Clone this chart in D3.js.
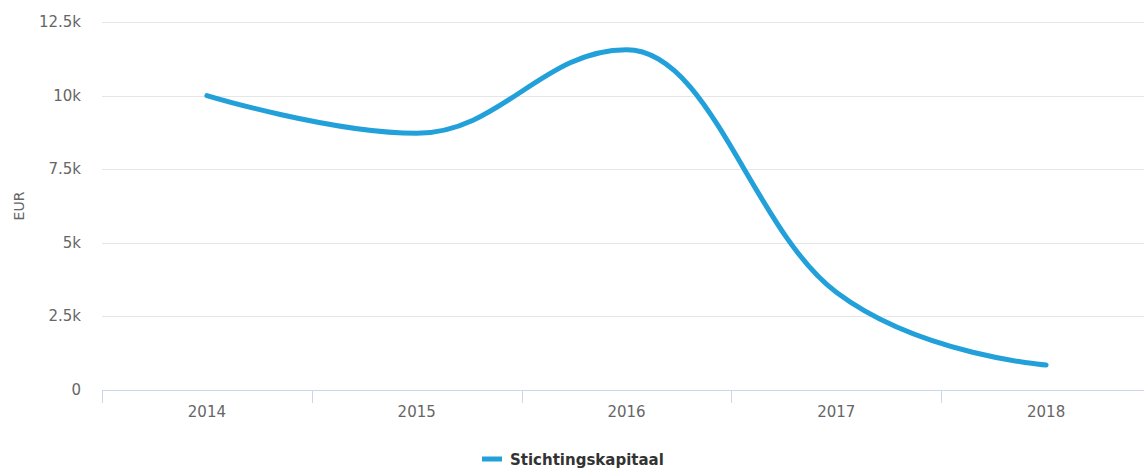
<!DOCTYPE html>
<html>
<head>
<meta charset="utf-8">
<script src="https://cdn.jsdelivr.net/npm/d3@7"></script>
<style>
  html, body { margin: 0; padding: 0; background: #fff; }
  svg { display: block; font-family: "DejaVu Sans", sans-serif; }
</style>
</head>
<body>
<svg id="chart" width="1144" height="470"></svg>
<script>
const categories = ["2014", "2015", "2016", "2017", "2018"];
const seriesName = "Stichtingskapitaal";
const values = [10000, 8720, 11560, 3320, 850];
const yTicks = [0, 2500, 5000, 7500, 10000, 12500];
const yTickLabels = ["0", "2.5k", "5k", "7.5k", "10k", "12.5k"];
const yTitle = "EUR";

(function () {
const svg = d3.select("#chart");
const pLeft = 102, pRight = 1151, pTop = 22, pBottom = 390;
const color = "#22a0da";

const x = d3.scaleBand().domain(categories).range([pLeft, pRight]).padding(0);
const y = d3.scaleLinear().domain([0, 12500]).range([pBottom, pTop]);

// gridlines
svg.append("g").selectAll("line").data(yTicks.filter(d => d !== 0)).join("line")
  .attr("x1", pLeft).attr("x2", 1144)
  .attr("y1", d => Math.round(y(d)) + 0.5).attr("y2", d => Math.round(y(d)) + 0.5)
  .attr("stroke", "#e6e6e6").attr("stroke-width", 1);

// y labels
svg.append("g").selectAll("text").data(yTicks).join("text")
  .attr("x", 81).attr("y", d => y(d) + 5)
  .attr("text-anchor", "end").attr("fill", "#666").attr("font-size", 15)
  .text((d, i) => yTickLabels[i]);

// y title
svg.append("text")
  .attr("transform", `translate(24,206) rotate(-90)`)
  .attr("text-anchor", "middle").attr("fill", "#666").attr("font-size", 14)
  .text(yTitle);

// x axis line
svg.append("line").attr("x1", pLeft).attr("x2", 1144)
  .attr("y1", pBottom + 0.5).attr("y2", pBottom + 0.5)
  .attr("stroke", "#ccd6eb").attr("stroke-width", 1);

// x ticks at band boundaries
svg.append("g").selectAll("line").data(categories).join("line")
  .attr("x1", d => Math.round(x(d)) + 0.5).attr("x2", d => Math.round(x(d)) + 0.5)
  .attr("y1", pBottom).attr("y2", pBottom + 13)
  .attr("stroke", "#ccd6eb").attr("stroke-width", 1);

// x labels
svg.append("g").selectAll("text").data(categories).join("text")
  .attr("x", d => x(d) + x.bandwidth() / 2).attr("y", 417)
  .attr("text-anchor", "middle").attr("fill", "#666").attr("font-size", 15)
  .text(d => d);

// Highcharts-style spline path
const pts = categories.map((c, i) => ({ px: x(c) + x.bandwidth() / 2, py: y(values[i]) }));
const smoothing = 1.5, denom = smoothing + 1;
pts.forEach((p, i) => {
  if (i > 0 && i < pts.length - 1) {
    const l = pts[i - 1], n = pts[i + 1];
    let lcx = (smoothing * p.px + l.px) / denom, lcy = (smoothing * p.py + l.py) / denom;
    let rcx = (smoothing * p.px + n.px) / denom, rcy = (smoothing * p.py + n.py) / denom;
    let corr = 0;
    if (rcx !== lcx) corr = ((rcy - lcy) * (rcx - p.px)) / (rcx - lcx) + p.py - rcy;
    lcy += corr; rcy += corr;
    if (lcy > l.py && lcy > p.py) { lcy = Math.max(l.py, p.py); rcy = 2 * p.py - lcy; }
    else if (lcy < l.py && lcy < p.py) { lcy = Math.min(l.py, p.py); rcy = 2 * p.py - lcy; }
    if (rcy > n.py && rcy > p.py) { rcy = Math.max(n.py, p.py); lcy = 2 * p.py - rcy; }
    else if (rcy < n.py && rcy < p.py) { rcy = Math.min(n.py, p.py); lcy = 2 * p.py - rcy; }
    p.lcx = lcx; p.lcy = lcy; p.rcx = rcx; p.rcy = rcy;
  }
});
const path = d3.path();
pts.forEach((p, i) => {
  if (i === 0) { path.moveTo(p.px, p.py); return; }
  const l = pts[i - 1];
  path.bezierCurveTo(
    l.rcx ?? l.px, l.rcy ?? l.py,
    p.lcx ?? p.px, p.lcy ?? p.py,
    p.px, p.py);
});
svg.append("path").attr("d", path.toString())
  .attr("fill", "none").attr("stroke", color).attr("stroke-width", 5)
  .attr("stroke-linecap", "round").attr("stroke-linejoin", "round");

// legend
const lg = svg.append("g");
lg.append("line").attr("x1", 482).attr("x2", 502).attr("y1", 459).attr("y2", 459)
  .attr("stroke", color).attr("stroke-width", 5);
lg.append("text").attr("x", 510).attr("y", 465)
  .attr("fill", "#333").attr("font-size", 15).attr("font-weight", "bold")
  .text(seriesName);
})();
</script>
</body>
</html>
